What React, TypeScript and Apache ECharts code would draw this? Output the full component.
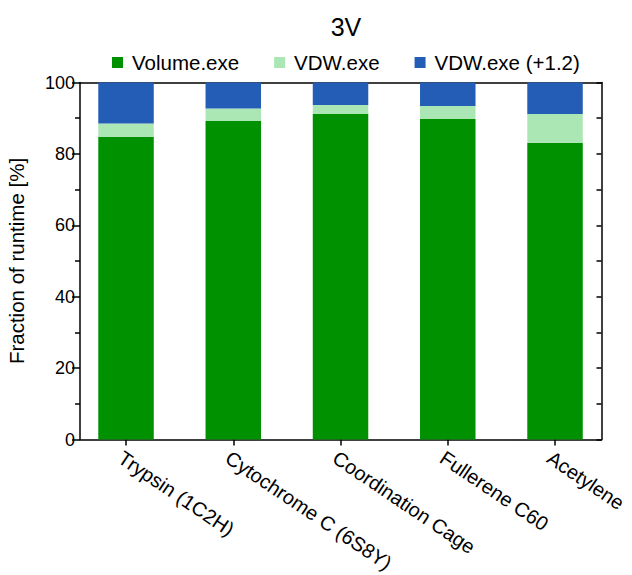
import React, { useEffect, useRef } from "react";
import * as echarts from "echarts";

const categories = [
  "Trypsin (1C2H)",
  "Cytochrome C (6S8Y)",
  "Coordination Cage",
  "Fullerene C60",
  "Acetylene",
];
const volumeExe = [84.8, 89.2, 91.2, 89.8, 83.1];
const vdwExe = [3.7, 3.5, 2.5, 3.6, 8.1];
const vdwExe12 = [11.5, 7.3, 6.3, 6.6, 8.8];
const seriesNames = ["Volume.exe", "VDW.exe", "VDW.exe (+1.2)"];
const colors = ["#009100", "#ABE7B4", "#245DB5"];

const FONT = "Liberation Sans";

export default function App() {
  const ref = useRef<HTMLDivElement>(null);
  useEffect(() => {
    if (!ref.current) return;
    const chart = echarts.init(ref.current, null, { renderer: "svg" });
    const top = 82.5;
    const bottom = 575 - 439.5;
    const barsLeft = 72.4;
    const barsWidth = 536.25;
    const frameLeft = 80;
    const frameRight = 632 - 601.5;
    const axisColor = "#000";
    chart.setOption({
      animation: false,
      textStyle: { fontFamily: FONT },
      title: {
        text: "3V",
        left: 341,
        textAlign: "center",
        top: 9,
        textStyle: { fontFamily: FONT, fontSize: 25, fontWeight: "normal", color: "#000" },
      },
      legend: {
        top: 47,
        left: 107,
        icon: "rect",
        itemWidth: 11,
        itemHeight: 11,
        itemGap: 35,
        data: seriesNames,
        textStyle: { fontFamily: FONT, fontSize: 20.5, color: "#000", padding: [0, 0, 0, 4] },
      },
      grid: [
        { left: barsLeft, width: barsWidth, top, bottom, outerBoundsMode: "none", containLabel: false },
        { left: frameLeft, right: frameRight, top, bottom, outerBoundsMode: "none", containLabel: false },
      ],
      xAxis: [
        {
          type: "category",
          gridIndex: 0,
          data: categories,
          axisLine: { show: false },
          axisTick: { show: true, alignWithLabel: true, length: 6, lineStyle: { color: axisColor, width: 1.5 } },
          axisLabel: {
            rotate: -34,
            fontSize: 20,
            fontFamily: FONT,
            color: "#000",
            margin: 8,
            interval: 0,
            verticalAlign: "top",
          },
        },
        {
          type: "value",
          gridIndex: 1,
          min: 0,
          max: 1,
          position: "bottom",
          axisLine: { show: true, onZero: false, lineStyle: { color: axisColor, width: 1.5 } },
          axisTick: { show: false },
          axisLabel: { show: false },
          splitLine: { show: false },
        },
        {
          type: "value",
          gridIndex: 1,
          min: 0,
          max: 1,
          position: "top",
          axisLine: { show: true, onZero: false, lineStyle: { color: axisColor, width: 1.5 } },
          axisTick: { show: false },
          axisLabel: { show: false },
          splitLine: { show: false },
        },
      ],
      yAxis: [
        {
          type: "value",
          gridIndex: 0,
          min: 0,
          max: 100,
          show: false,
        },
        {
          type: "value",
          gridIndex: 1,
          min: 0,
          max: 100,
          interval: 20,
          position: "left",
          name: "Fraction of runtime [%]",
          nameLocation: "middle",
          nameGap: 53,
          nameTextStyle: { fontFamily: FONT, fontSize: 20.5, color: "#000" },
          axisLine: { show: true, onZero: false, lineStyle: { color: axisColor, width: 1.5 } },
          axisTick: { show: true, length: 8, lineStyle: { color: axisColor, width: 1.5 } },
          minorTick: { show: true, splitNumber: 2, length: 5, lineStyle: { color: axisColor, width: 1.5 } },
          axisLabel: { fontSize: 18, fontFamily: FONT, color: "#000", margin: 5 },
          splitLine: { show: false },
        },
        {
          type: "value",
          gridIndex: 1,
          min: 0,
          max: 100,
          interval: 10,
          position: "right",
          axisLine: { show: true, onZero: false, lineStyle: { color: axisColor, width: 1.5 } },
          axisTick: { show: true, inside: true, length: 5, lineStyle: { color: axisColor, width: 1.5 } },
          axisLabel: { show: false },
          splitLine: { show: false },
        },
      ],
      series: [
        { name: seriesNames[0], data: volumeExe, color: colors[0] },
        { name: seriesNames[1], data: vdwExe, color: colors[1] },
        { name: seriesNames[2], data: vdwExe12, color: colors[2] },
      ].map((s) => ({
        ...s,
        type: "bar",
        stack: "total",
        xAxisIndex: 0,
        yAxisIndex: 0,
        barWidth: 55.5,
        itemStyle: { color: s.color },
        emphasis: { disabled: true },
      })),
    });
    return () => chart.dispose();
  }, []);
  return (
    <div
      ref={ref}
      style={{ position: "absolute", left: 0, top: 0, width: 632, height: 575 }}
    />
  );
}
